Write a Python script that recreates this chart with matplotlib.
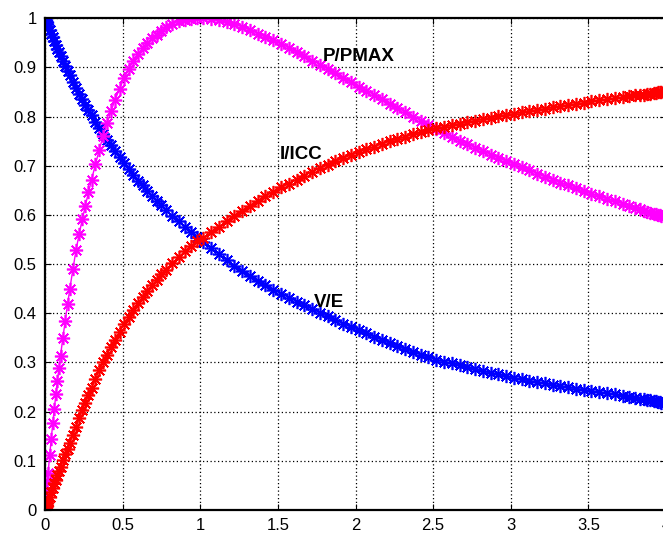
import matplotlib.pyplot as plt

# load ratio R/r (dense near both ends, like the original sampling)
x = [0, 0.005, 0.01, 0.015, 0.02, 0.03, 0.04, 0.05, 0.06, 0.07,
     0.08, 0.09, 0.10, 0.115, 0.13, 0.145, 0.16, 0.18, 0.20, 0.22,
     0.24, 0.26, 0.28, 0.30, 0.325, 0.35, 0.375, 0.40, 0.425, 0.45,
     0.48, 0.51, 0.54, 0.57, 0.60, 0.63, 0.66, 0.69, 0.72, 0.75,
     0.78, 0.82, 0.86, 0.90, 0.94, 0.98,
     1.02, 1.07, 1.12, 1.17, 1.22, 1.27, 1.32, 1.37, 1.42, 1.47,
     1.52, 1.57, 1.62, 1.67, 1.72, 1.77, 1.82, 1.87, 1.92, 1.97,
     2.02, 2.07, 2.12, 2.17, 2.22, 2.27, 2.32, 2.37, 2.42, 2.47,
     2.52, 2.57, 2.62, 2.67, 2.72, 2.77, 2.82, 2.87, 2.92, 2.97,
     3.02, 3.07, 3.12, 3.17, 3.22, 3.27, 3.32, 3.37, 3.42, 3.47,
     3.52, 3.57, 3.62, 3.67, 3.72,
     3.76, 3.80, 3.83, 3.86, 3.88, 3.90, 3.92, 3.935, 3.95, 3.96, 3.97]

v_e = [1.000, 0.996, 0.992, 0.988, 0.984, 0.976, 0.968, 0.961, 0.953, 0.946,
       0.938, 0.931, 0.924, 0.914, 0.903, 0.893, 0.884, 0.871, 0.859, 0.847,
       0.836, 0.824, 0.813, 0.803, 0.790, 0.777, 0.765, 0.753, 0.742, 0.730,
       0.718, 0.705, 0.693, 0.682, 0.670, 0.660, 0.649, 0.639, 0.629, 0.620,
       0.610, 0.598, 0.587, 0.575, 0.565, 0.555,
       0.545, 0.532, 0.520, 0.508, 0.497, 0.486, 0.476, 0.466, 0.457, 0.448,
       0.440, 0.432, 0.424, 0.416, 0.409, 0.401, 0.394, 0.386, 0.379, 0.372,
       0.366, 0.359, 0.352, 0.346, 0.339, 0.333, 0.327, 0.321, 0.316, 0.311,
       0.306, 0.302, 0.298, 0.294, 0.290, 0.286, 0.283, 0.279, 0.276, 0.272,
       0.269, 0.266, 0.263, 0.260, 0.258, 0.255, 0.252, 0.250, 0.247, 0.245,
       0.242, 0.240, 0.237, 0.235, 0.232,
       0.230, 0.228, 0.226, 0.225, 0.224, 0.223, 0.222, 0.221, 0.220, 0.219, 0.218]

i_icc = [0.000, 0.005, 0.009, 0.014, 0.018, 0.027, 0.036, 0.045, 0.054, 0.062,
         0.071, 0.080, 0.088, 0.101, 0.113, 0.125, 0.137, 0.153, 0.169, 0.187,
         0.203, 0.218, 0.233, 0.248, 0.266, 0.284, 0.300, 0.316, 0.331, 0.345,
         0.362, 0.378, 0.393, 0.407, 0.420, 0.433, 0.445, 0.457, 0.468, 0.479,
         0.489, 0.502, 0.514, 0.526, 0.537, 0.547,
         0.553, 0.565, 0.576, 0.587, 0.598, 0.609, 0.619, 0.629, 0.638, 0.647,
         0.656, 0.664, 0.672, 0.680, 0.688, 0.695, 0.702, 0.709, 0.716, 0.722,
         0.728, 0.734, 0.739, 0.745, 0.750, 0.755, 0.759, 0.764, 0.768, 0.772,
         0.776, 0.779, 0.783, 0.786, 0.789, 0.792, 0.795, 0.798, 0.801, 0.804,
         0.806, 0.809, 0.811, 0.814, 0.816, 0.819, 0.821, 0.824, 0.826, 0.828,
         0.831, 0.833, 0.835, 0.837, 0.839,
         0.841, 0.843, 0.844, 0.845, 0.846, 0.847, 0.848, 0.849, 0.850, 0.850, 0.851]

p_pmax = [0.000, 0.020, 0.039, 0.058, 0.076, 0.111, 0.144, 0.176, 0.206, 0.235,
          0.263, 0.289, 0.314, 0.350, 0.384, 0.418, 0.450, 0.490, 0.529, 0.561,
          0.591, 0.619, 0.646, 0.672, 0.703, 0.733, 0.761, 0.787, 0.811, 0.833,
          0.857, 0.878, 0.897, 0.913, 0.927, 0.939, 0.950, 0.959, 0.967, 0.975,
          0.982, 0.989, 0.994, 0.997, 0.999, 1.000,
          1.000, 0.998, 0.996, 0.992, 0.988, 0.983, 0.976, 0.969, 0.962, 0.955,
          0.948, 0.940, 0.931, 0.923, 0.914, 0.906, 0.897, 0.888, 0.879, 0.870,
          0.861, 0.853, 0.844, 0.835, 0.826, 0.818, 0.809, 0.800, 0.792, 0.783,
          0.775, 0.767, 0.759, 0.751, 0.744, 0.737, 0.730, 0.723, 0.716, 0.710,
          0.703, 0.697, 0.691, 0.684, 0.678, 0.672, 0.666, 0.660, 0.654, 0.648,
          0.643, 0.638, 0.633, 0.628, 0.623,
          0.619, 0.615, 0.612, 0.609, 0.607, 0.605, 0.603, 0.602, 0.600, 0.599, 0.598]

x_ticks = [0, 0.5, 1, 1.5, 2, 2.5, 3, 3.5, 4]
x_labels = ['0', '0.5', '1', '1.5', '2', '2.5', '3', '3.5', '4']
y_ticks = [0, 0.1, 0.2, 0.3, 0.4, 0.5, 0.6, 0.7, 0.8, 0.9, 1]
y_labels = ['0', '0.1', '0.2', '0.3', '0.4', '0.5', '0.6', '0.7', '0.8', '0.9', '1']

plt.rcParams['font.family'] = ['Liberation Sans', 'DejaVu Sans']

fig = plt.figure(figsize=(6.63, 5.33), dpi=100)
ax = fig.add_axes([45 / 663, 23 / 533, 621 / 663, 491.7 / 533])

star = (8, 2, 0)
ax.plot(x, v_e, color='#0000ff', marker=star, ms=9.5, mew=1.2, lw=1)
ax.plot(x, p_pmax, color='#ff00ff', marker=star, ms=9.5, mew=1.2, lw=1)
ax.plot(x, i_icc, color='#ff0000', marker=star, ms=9.5, mew=1.2, lw=1)

ax.set_xlim(0, 4)
ax.set_ylim(0, 1)
ax.set_xticks(x_ticks)
ax.set_xticklabels(x_labels)
ax.set_yticks(y_ticks)
ax.set_yticklabels(y_labels)
ax.grid(True, color='black', linestyle=(0, (1, 2)), linewidth=0.9)
ax.tick_params(direction='in', top=True, right=True, length=4,
               labelsize=12, pad=6)
for s in ax.spines.values():
    s.set_linewidth(1.6)

lbl = dict(fontsize=13.5, fontweight='heavy', ha='center', va='center')
ax.text(2.02, 0.923, 'P/PMAX', **lbl)
ax.text(1.65, 0.723, 'I/ICC', **lbl)
ax.text(1.83, 0.423, 'V/E', **lbl)

fig.savefig('out.png', dpi=100)
